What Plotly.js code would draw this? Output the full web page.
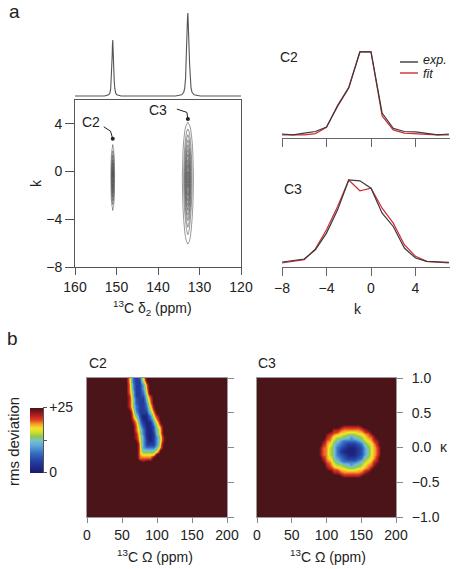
<!DOCTYPE html>
<html>
<head>
<meta charset="utf-8">
<script src="https://cdn.plot.ly/plotly-3.0.1.min.js"></script>
<style>
  html, body { margin: 0; padding: 0; background: #fff; }
  #chart { width: 461px; height: 569px; }
</style>
</head>
<body>
<div id="chart"></div>
<script>
// ---------- panel a, top: 1D 13C projection (ppm, relative intensity) ----------
const specPpm = [120, 129.8, 131.3, 131.8, 132.05, 132.25, 132.4, 132.5, 132.6, 132.7, 132.8,
  132.9, 133.0, 133.1, 133.2, 133.35, 133.55, 133.8, 134.3, 135.8,
  148.9, 149.9, 150.2, 150.4, 150.55, 150.65, 150.75, 150.82, 150.9,
  150.98, 151.05, 151.15, 151.25, 151.4, 151.6, 151.9, 152.9, 160];
const specInt = [0, 0, 0.015, 0.045, 0.1, 0.22, 0.4, 0.56, 0.76, 0.93, 1.0,
  0.93, 0.76, 0.56, 0.4, 0.22, 0.1, 0.045, 0.015, 0,
  0, 0.014, 0.034, 0.088, 0.18, 0.30, 0.47, 0.61, 0.675,
  0.61, 0.47, 0.30, 0.18, 0.088, 0.034, 0.014, 0, 0];

// ---------- panel a, left: 2D spectrum sampled on a ppm x k grid ----------
const gridPpm = [120, 131.0, 131.55, 131.9, 132.2, 132.5, 132.8, 133.1, 133.4, 133.7, 134.05, 134.6,
  149.6, 150.1, 150.45, 150.6, 150.75, 150.9, 151.05, 151.2, 151.35, 151.7, 160];
const gridK = [-8, -7, -6, -5, -4, -3, -2, -1, 0, 1, 2, 3, 4, 5, 6];
const c3LineShape = [0, 0, 0.07, 0.2, 0.42, 0.75, 1, 0.75, 0.42, 0.2, 0.07, 0,
  0, 0, 0, 0, 0, 0, 0, 0, 0, 0, 0];
const c2LineShape = [0, 0, 0, 0, 0, 0, 0, 0, 0, 0, 0, 0,
  0, 0, 0.07, 0.25, 0.6, 1, 0.6, 0.25, 0.07, 0, 0];
const c2KProfile = [0, 0, 0, 0, 0, 0.12, 0.6, 0.95, 1.0, 0.55, 0.12, 0, 0, 0, 0];
const c3KProfile = [0, 0, 0.065, 0.2, 0.38, 0.62, 0.88, 1.0, 0.97, 0.78, 0.52, 0.28, 0.07, 0, 0];
const c2Height = 0.675;
const c3Height = 1.0;
const peakNames = ['C2', 'C3'];
const peakPpm = [150.9, 132.8];
const peakK = [2.75, 4.4];

// ---------- panel a, right: k slices, experiment and fit ----------
const kSlice = [-8, -7, -6, -5, -4, -3, -2, -1, 0, 1, 2, 3, 4, 5, 6, 7];
const c2Exp = [0.0, -0.01, 0.01, 0.03, 0.085, 0.34, 0.56, 1.0, 1.0, 0.255, 0.07, 0.03, 0.025, 0.005, -0.01, 0.0];
const c2Fit = [-0.01, -0.01, -0.01, 0.005, 0.08, 0.35, 0.57, 1.0, 1.0, 0.22, 0.05, 0.01, 0.0, -0.005, -0.01, -0.01];
const c3Exp = [0.012, 0.028, 0.048, 0.16, 0.36, 0.64, 1.0, 0.99, 0.9, 0.6, 0.44, 0.18, 0.06, 0.02, 0.016, 0.008];
const c3Fit = [0.0, 0.02, 0.04, 0.17, 0.4, 0.68, 1.0, 0.87, 0.9, 0.66, 0.48, 0.22, 0.08, 0.02, 0.01, 0.0];

// ---------- panel b: rms deviation maps over (Omega, kappa) ----------
// grid: Omega 0..200 ppm in 5 ppm steps (41 columns), kappa 1.0..-1.0 in 0.05 steps (41 rows)
// each entry: [row, first column, values]; letters A..Z = 0..25, cells not listed lie above +25
const rmsAbove = 26;
const c2Rows = [
  [0, 12, 'TIEGR'], [1, 12, 'TIEEPY'], [2, 12, 'UKEEKU'], [3, 12, 'UKEEKT'],
  [4, 12, 'UNEEIR'], [5, 12, 'WNEEGPW'], [6, 12, 'WPGEENU'], [7, 12, 'WPGEEKT'],
  [8, 12, 'WPIEEIRY'], [9, 12, 'YRIEEGPW'], [10, 13, 'TKEEENT'], [11, 13, 'UNGBCIRW'],
  [12, 13, 'WRICBGNU'], [13, 13, 'YTKEBCKRY'], [14, 14, 'UNGBCGPU'], [15, 14, 'UPICBGNT'],
  [16, 14, 'WPICBENT'], [17, 14, 'WRKCBEKRY'], [18, 14, 'YRKEBEKRY'], [19, 15, 'TKEEEKT'],
  [20, 15, 'TKIIINU'], [21, 15, 'TNNNNR'], [22, 15, 'TRRRR'], [23, 15, 'UUUU'], [24, 16, 'Y']
];
const c3Rows = [
  [14, 24, 'YWWWWWY'], [15, 22, 'WWUTTTTTUWY'], [16, 20, 'YWUTRRPPPRRTUY'],
  [17, 20, 'WURPPNNKNNPRTUY'], [18, 19, 'YUTPNKIIIIKNPRTWY'], [19, 19, 'WTRNKIGEEEGINPRUY'],
  [20, 18, 'YUTPNIGECBCEGKNRTW'], [21, 18, 'YUTPNIECBBBEGKNRTW'], [22, 18, 'YUTPNIGECBCEGKNRTW'],
  [23, 19, 'WTRNKIGEEEGINPRUY'], [24, 19, 'YUTPNKIIIIKNPRTWY'], [25, 20, 'WURPPNNKNNPRTUY'],
  [26, 20, 'YWUTRRPPPRRTUY'], [27, 22, 'WWUTTTTTUWY'], [28, 24, 'YWWWWWY']
];
const omegaTicks = [0, 50, 100, 150, 200];
const kappaTicks = [-1, -0.5, 0, 0.5, 1];

// ---------- helpers ----------
const W = 461, H = 569;
const PX = v => v / W;
const PY = v => 1 - v / H;
const FONT = 'Liberation Sans, Arial, Helvetica, sans-serif';
const INK = '#222';

function rmsGrid(rows) {
  const n = 41;
  const z = [];
  for (let r = 0; r < n; r++) z.push(new Array(n).fill(rmsAbove));
  rows.forEach(([r, c, s]) => {
    for (let k = 0; k < s.length; k++) z[r][c + k] = s.charCodeAt(k) - 65;
  });
  return z;
}

const z2d = gridK.map((k, i) => gridPpm.map((p, j) =>
  c2Height * c2KProfile[i] * c2LineShape[j] + c3Height * c3KProfile[i] * c3LineShape[j]));

const rmsScale = [
  [0.00, '#1b1a6a'], [0.10, '#1f2d8c'], [0.20, '#2546a6'], [0.32, '#3a74c4'],
  [0.42, '#5fa6da'], [0.50, '#79c3c6'], [0.56, '#8cc74e'], [0.63, '#d2df30'],
  [0.69, '#f5e22b'], [0.75, '#f4a226'], [0.82, '#df3a23'], [0.90, '#a51d1e'],
  [0.96, '#6a151a'], [1.00, '#4a1418']
];

const traces = [
  { type: 'scatter', mode: 'lines', x: specPpm, y: specInt, xaxis: 'x', yaxis: 'y',
    line: { color: '#555', width: 1.1 }, hoverinfo: 'skip', showlegend: false },
  { type: 'contour', x: gridPpm, y: gridK, z: z2d, xaxis: 'x2', yaxis: 'y2',
    contours: { coloring: 'lines', start: 0.06, end: 0.96, size: 0.1, showlabels: false },
    colorscale: [[0, '#505050'], [1, '#505050']], line: { width: 0.6 },
    showscale: false, hoverinfo: 'skip' },
  { type: 'scatter', mode: 'markers', x: peakPpm, y: peakK, xaxis: 'x2', yaxis: 'y2',
    marker: { color: INK, size: 4 }, hoverinfo: 'skip', showlegend: false },
  { type: 'scatter', mode: 'lines', x: kSlice, y: c2Fit, xaxis: 'x3', yaxis: 'y3',
    line: { color: '#d02a35', width: 1.2 }, hoverinfo: 'skip', showlegend: false },
  { type: 'scatter', mode: 'lines', x: kSlice, y: c2Exp, xaxis: 'x3', yaxis: 'y3',
    line: { color: '#3a3a3a', width: 1.2 }, hoverinfo: 'skip', showlegend: false },
  { type: 'scatter', mode: 'lines', x: kSlice, y: c3Fit, xaxis: 'x4', yaxis: 'y4',
    line: { color: '#d02a35', width: 1.2 }, hoverinfo: 'skip', showlegend: false },
  { type: 'scatter', mode: 'lines', x: kSlice, y: c3Exp, xaxis: 'x4', yaxis: 'y4',
    line: { color: '#3a3a3a', width: 1.2 }, hoverinfo: 'skip', showlegend: false },
  { type: 'heatmap', z: rmsGrid(c2Rows), x0: 0, dx: 5, y0: 1, dy: -0.05,
    xaxis: 'x5', yaxis: 'y5', coloraxis: 'coloraxis', zsmooth: 'best', hoverinfo: 'skip' },
  { type: 'heatmap', z: rmsGrid(c3Rows), x0: 0, dx: 5, y0: 1, dy: -0.05,
    xaxis: 'x6', yaxis: 'y6', coloraxis: 'coloraxis', zsmooth: 'best', hoverinfo: 'skip' }
];

const tickFont = { family: FONT, size: 14, color: INK };
const base = { showgrid: false, zeroline: false, fixedrange: true };

// text placed at a pixel position (centre by default)
function label(text, x, y, extra) {
  return Object.assign({ text: text, xref: 'paper', yref: 'paper', x: PX(x), y: PY(y),
    xanchor: 'center', yanchor: 'middle', showarrow: false,
    font: { family: FONT, size: 14, color: INK } }, extra || {});
}

const layout = {
  width: W, height: H,
  margin: { l: 0, r: 0, t: 0, b: 0, autoexpand: false },
  paper_bgcolor: '#fff', plot_bgcolor: 'rgba(0,0,0,0)',
  font: { family: FONT, size: 14, color: INK },
  showlegend: false,
  xaxis: Object.assign({}, base, { domain: [PX(75), PX(241)], range: [160, 120], visible: false, anchor: 'y' }),
  yaxis: Object.assign({}, base, { domain: [PY(97), PY(10)], range: [-0.012, 1.036], visible: false, anchor: 'x' }),
  xaxis2: Object.assign({}, base, { domain: [PX(75), PX(241)], range: [160, 120], anchor: 'y2',
    tickvals: [160, 150, 140, 130, 120], ticks: 'outside', ticklen: 7, tickcolor: '#555',
    showline: true, mirror: true, linecolor: '#555', linewidth: 1, tickfont: tickFont, ticklabelstandoff: 0 }),
  yaxis2: Object.assign({}, base, { domain: [PY(267), PY(100)], range: [-8, 6], anchor: 'x2',
    tickvals: [-8, -4, 0, 4], ticks: 'outside', ticklen: 9, tickcolor: '#555',
    showline: true, mirror: true, linecolor: '#555', linewidth: 1, tickfont: tickFont }),
  xaxis3: Object.assign({}, base, { domain: [PX(282), PX(450)], range: [-8, 7.1], anchor: 'y3',
    tickvals: [-8, -4, 0, 4], ticks: 'outside', ticklen: 8, tickcolor: '#666',
    showline: true, linecolor: '#666', showticklabels: false }),
  yaxis3: Object.assign({}, base, { domain: [PY(138), PY(40)], range: [-0.049, 1.146], visible: false, anchor: 'x3' }),
  xaxis4: Object.assign({}, base, { domain: [PX(282), PX(450)], range: [-8, 7.1], anchor: 'y4',
    tickvals: [-8, -4, 0, 4], ticks: 'outside', ticklen: 8, tickcolor: '#666',
    showline: true, linecolor: '#666', tickfont: tickFont, ticklabelstandoff: 0 }),
  yaxis4: Object.assign({}, base, { domain: [PY(267), PY(170)], range: [-0.048, 1.12], visible: false, anchor: 'x4' }),
  xaxis5: Object.assign({}, base, { domain: [PX(87), PX(227)], range: [0, 200], anchor: 'y5',
    tickvals: omegaTicks, ticks: 'outside', ticklen: 5, tickcolor: '#888',
    showline: true, mirror: true, linecolor: '#999', tickfont: tickFont, ticklabelstandoff: 0 }),
  yaxis5: Object.assign({}, base, { domain: [PY(517), PY(378)], range: [-1, 1], anchor: 'x5', side: 'right',
    tickvals: kappaTicks, ticks: 'outside', ticklen: 6, tickcolor: '#888',
    showline: true, mirror: true, linecolor: '#999', showticklabels: false }),
  xaxis6: Object.assign({}, base, { domain: [PX(257), PX(396)], range: [0, 200], anchor: 'y6',
    tickvals: omegaTicks, ticks: 'outside', ticklen: 5, tickcolor: '#888',
    showline: true, mirror: true, linecolor: '#999', tickfont: tickFont, ticklabelstandoff: 0 }),
  yaxis6: Object.assign({}, base, { domain: [PY(517), PY(378)], range: [-1, 1], anchor: 'x6', side: 'right',
    tickvals: kappaTicks, tickformat: '.1f', ticks: 'outside', ticklen: 6, tickcolor: '#888',
    showline: true, mirror: true, linecolor: '#999', tickfont: tickFont, ticklabelstandoff: 6 }),
  coloraxis: {
    cmin: 0, cmax: 25, colorscale: rmsScale,
    colorbar: {
      x: PX(30), xanchor: 'left', xpad: 0, y: PY(440), yanchor: 'middle', ypad: 0,
      len: 65, lenmode: 'pixels', thickness: 13, thicknessmode: 'pixels',
      outlinewidth: 0, ticks: 'outside', ticklen: 4, tickcolor: '#555',
      tickvals: [0, 12.5, 25], ticktext: ['0', '', '+25'], tickfont: tickFont
    }
  },
  shapes: [
    // leader lines from the peak labels to the marked peaks
    { type: 'path', xref: 'x2', yref: 'y2', xsizemode: 'pixel', ysizemode: 'pixel',
      xanchor: peakPpm[0], yanchor: peakK[0], path: 'M0,0 L-2.3,7.6 L-9,12',
      line: { color: INK, width: 1 } },
    { type: 'path', xref: 'x2', yref: 'y2', xsizemode: 'pixel', ysizemode: 'pixel',
      xanchor: peakPpm[1], yanchor: peakK[1], path: 'M0,0 L-1,6.7 L-11,10',
      line: { color: INK, width: 1 } },
    // legend keys
    { type: 'line', xref: 'paper', yref: 'paper', x0: PX(400), x1: PX(418), y0: PY(62), y1: PY(62),
      line: { color: '#3a3a3a', width: 1.4 } },
    { type: 'line', xref: 'paper', yref: 'paper', x0: PX(400), x1: PX(418), y0: PY(73), y1: PY(73),
      line: { color: '#d02a35', width: 1.4 } },
    // colour bar axis line
    { type: 'line', xref: 'paper', yref: 'paper', x0: PX(43.5), x1: PX(43.5), y0: PY(407.5), y1: PY(472.5),
      line: { color: '#555', width: 1 } }
  ],
  annotations: [
    label('a', 14, 12, { font: { family: FONT, size: 19, color: INK } }),
    label('b', 12, 338, { font: { family: FONT, size: 19, color: INK } }),
    { text: peakNames[0], xref: 'x2', yref: 'y2', x: peakPpm[0], y: peakK[0], xshift: -21.5, yshift: 16.3,
      xanchor: 'center', yanchor: 'middle', showarrow: false, font: { family: FONT, size: 14, color: INK } },
    { text: peakNames[1], xref: 'x2', yref: 'y2', x: peakPpm[1], y: peakK[1], xshift: -30, yshift: 9,
      xanchor: 'center', yanchor: 'middle', showarrow: false, font: { family: FONT, size: 14, color: INK } },
    label('<sup>13</sup>C δ<sub>2</sub> (ppm)', 152, 308),
    label('k', 36, 183, { textangle: -90 }),
    label('k', 358, 309),
    label(peakNames[0], 278, 57, { xanchor: 'left' }),
    label(peakNames[1], 282, 189, { xanchor: 'left' }),
    label('<i>exp.</i>', 421, 60.5, { xanchor: 'left', font: { family: FONT, size: 12.5, color: INK } }),
    label('<i>fit</i>', 421, 74, { xanchor: 'left', font: { family: FONT, size: 12.5, color: INK } }),
    label(peakNames[0], 87, 363, { xanchor: 'left' }),
    label(peakNames[1], 256, 363, { xanchor: 'left' }),
    label('rms deviation', 14, 442, { textangle: -90, font: { family: FONT, size: 15, color: INK } }),
    label('κ', 444, 447),
    label('<sup>13</sup>C Ω (ppm)', 155, 556),
    label('<sup>13</sup>C Ω (ppm)', 328, 556)
  ]
};

Plotly.newPlot('chart', traces, layout, { staticPlot: true, displayModeBar: false });
</script>
</body>
</html>
